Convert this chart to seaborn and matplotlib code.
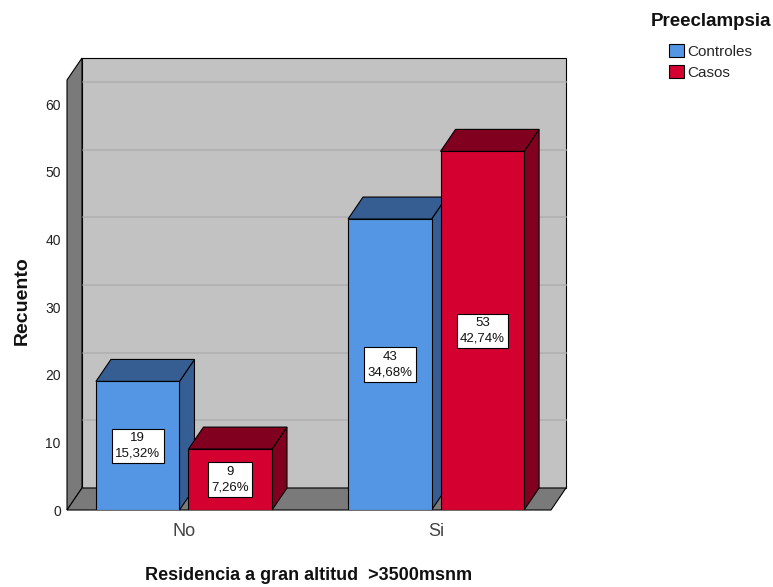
import numpy as np
import pandas as pd
import seaborn as sns
import matplotlib
matplotlib.use("Agg")
import matplotlib.pyplot as plt
from matplotlib import font_manager
from matplotlib.patches import Polygon, Patch

# Data
residencia = ["No", "Si"]
grupos = ["Controles", "Casos"]
recuento_controles = [19, 43]
recuento_casos = [9, 53]
y_ticks = [0, 10, 20, 30, 40, 50, 60]

# Colours
frente = {"Controles": "#5596e4", "Casos": "#d40030"}
sombra = {"Controles": "#365e92", "Casos": "#82001f"}
pared_fondo = "#c2c2c2"
rejilla = "#b2b2b2"
pared_lado = "#7a7a7a"

sns.set_theme(style="white")


def pick_font(names):
    for n in names:
        try:
            font_manager.findfont(n, fallback_to_default=False)
            return n
        except Exception:
            continue
    return "DejaVu Sans"


fam = pick_font(["Liberation Sans Narrow", "Liberation Sans", "Arial"])
plt.rcParams["font.family"] = [fam, "DejaVu Sans"]
bold_fam = pick_font(["Liberation Sans", "Arial"])

df = pd.DataFrame({
    "Residencia": residencia * 2,
    "Preeclampsia": [grupos[0]] * len(residencia) + [grupos[1]] * len(residencia),
    "Recuento": recuento_controles + recuento_casos,
})
total = df["Recuento"].sum()

W, H = 773, 587
fig = plt.figure(figsize=(W / 100, H / 100), dpi=100)
ax_px = (67, 80, 551, 510)  # left, top, right, bottom (pixels)
ax = fig.add_axes([ax_px[0] / W, 1 - ax_px[3] / H,
                   (ax_px[2] - ax_px[0]) / W, (ax_px[3] - ax_px[1]) / H])

ytop = 63.55
xlim = (-0.464, 1.456)

sns.barplot(data=df, x="Residencia", y="Recuento", hue="Preeclampsia",
            hue_order=grupos, order=residencia, palette=frente, saturation=1,
            width=0.734, gap=0.097, edgecolor="black", linewidth=0.8,
            errorbar=None, legend=False, ax=ax, zorder=3)
ax.set_ylim(0, ytop)
ax.set_xlim(*xlim)

# depth of the 3D box (pixels)
dpx, dpy = 15, 22
ax_w = ax_px[2] - ax_px[0]
ax_h = ax_px[3] - ax_px[1]
dxa, dya = dpx / ax_w, dpy / ax_h
dxd = dxa * (xlim[1] - xlim[0])
dyd = dya * ytop

# back wall with grid
ax.add_patch(Polygon([(dxa, dya), (1 + dxa, dya), (1 + dxa, 1 + dya), (dxa, 1 + dya)],
                     closed=True, transform=ax.transAxes, facecolor=pared_fondo,
                     edgecolor="black", linewidth=0.8, clip_on=False, zorder=0))
for t in y_ticks[1:]:
    ya = t / ytop + dya
    ax.plot([dxa, 1 + dxa], [ya, ya], transform=ax.transAxes, color=rejilla,
            lw=1.3, clip_on=False, zorder=0.5)
# left wall
ax.add_patch(Polygon([(0, 0), (0, 1), (dxa, 1 + dya), (dxa, dya)], closed=True,
                     transform=ax.transAxes, facecolor=pared_lado, edgecolor="black",
                     linewidth=0.8, clip_on=False, zorder=1))
# floor
ax.add_patch(Polygon([(0, 0), (1, 0), (1 + dxa, dya), (dxa, dya)], closed=True,
                     transform=ax.transAxes, facecolor=pared_lado, edgecolor="black",
                     linewidth=0.8, clip_on=False, zorder=1))

# 3D faces and value boxes for each bar
bars = sorted([p for p in ax.patches if p.get_zorder() == 3], key=lambda p: p.get_x())
for p in bars:
    xl, w, h = p.get_x(), p.get_width(), p.get_height()
    xr = xl + w
    fc = matplotlib.colors.to_hex(p.get_facecolor())
    grp = [g for g in grupos if frente[g] == fc][0]
    side = Polygon([(xr, 0), (xr, h), (xr + dxd, h + dyd), (xr + dxd, dyd)],
                   closed=True, facecolor=sombra[grp], edgecolor="black",
                   linewidth=0.8, zorder=2.5, clip_on=False)
    top = Polygon([(xl, h), (xr, h), (xr + dxd, h + dyd), (xl + dxd, h + dyd)],
                  closed=True, facecolor=sombra[grp], edgecolor="black",
                  linewidth=0.8, zorder=2.5, clip_on=False)
    ax.add_patch(side)
    ax.add_patch(top)
    pct = f"{h / total * 100:.2f}".replace(".", ",")
    ax.text(xl + w / 2, h / 2, f"{int(h)}\n{pct}%", ha="center", va="center",
            fontsize=9.5, color="#111111", linespacing=1.4, zorder=4,
            bbox=dict(boxstyle="square,pad=0.25", facecolor="white",
                      edgecolor="black", linewidth=0.8))

ax.patch.set_visible(False)
for s in ax.spines.values():
    s.set_visible(False)
ax.set_yticks(y_ticks)
ax.tick_params(axis="y", length=0, pad=4.5, labelsize=10, labelcolor="#222222")
ax.tick_params(axis="x", length=0, pad=9, labelsize=13, labelcolor="#444444")
ax.set_xlabel("")
ax.set_ylabel("")

fig.text(22 / W, 1 - 301 / H, "Recuento", rotation=90, ha="center", va="center",
         fontsize=14, fontweight="bold", family=[bold_fam, "DejaVu Sans"], color="#111111")
fig.text(309 / W, 1 - 575 / H, "Residencia a gran altitud  >3500msnm", ha="center",
         va="center", fontsize=13, fontweight="bold", family=[bold_fam, "DejaVu Sans"],
         color="#111111")

# legend
fig.text(711 / W, 1 - 21 / H, "Preeclampsia", ha="center", va="center",
         fontsize=13.5, fontweight="bold", family=[bold_fam, "DejaVu Sans"], color="#111111")
handles = [Patch(facecolor=frente[g], edgecolor="black", linewidth=0.8) for g in grupos]
fig.legend(handles, grupos, loc="upper left",
           bbox_to_anchor=(669 / W, 1 - 44 / H), frameon=False, fontsize=11,
           handlelength=0.95, handleheight=0.95, handletextpad=0.25,
           labelspacing=0.4, borderpad=0, borderaxespad=0)

fig.savefig("out.png", dpi=100)
